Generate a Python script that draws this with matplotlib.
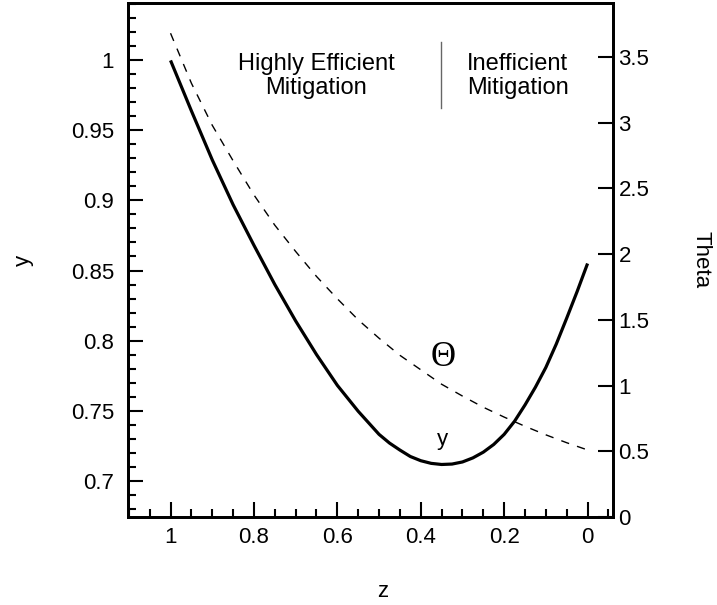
import numpy as np
import matplotlib.pyplot as plt
from matplotlib.ticker import MultipleLocator, FuncFormatter

plt.rcParams['font.family'] = ['Liberation Sans', 'DejaVu Sans']

# values
z = [1.0, 0.95, 0.9, 0.85, 0.8, 0.75, 0.7, 0.65, 0.6, 0.55, 0.5, 0.475, 0.45,
     0.425, 0.4, 0.375, 0.35, 0.325, 0.3, 0.275, 0.25, 0.225, 0.2, 0.175, 0.15,
     0.125, 0.1, 0.075, 0.05, 0.025, 0.0]
y = [1.0, 0.964, 0.929, 0.897, 0.868, 0.840, 0.814, 0.790, 0.768, 0.7495, 0.733,
     0.7268, 0.7218, 0.7172, 0.7142, 0.7123, 0.7115, 0.7118, 0.7133, 0.7162,
     0.7203, 0.7258, 0.7330, 0.7424, 0.7540, 0.7667, 0.7808, 0.7975, 0.8160,
     0.8350, 0.8550]

z_theta = [1.0, 0.95, 0.9, 0.85, 0.8, 0.75, 0.7, 0.65, 0.6, 0.55, 0.5, 0.45, 0.4,
           0.35, 0.3, 0.25, 0.2, 0.15, 0.1, 0.05, 0.0]
theta = [3.68, 3.30, 2.98, 2.71, 2.45, 2.22, 2.02, 1.83, 1.66, 1.50, 1.36,
         1.23, 1.12, 1.01, 0.92, 0.835, 0.76, 0.69, 0.625, 0.565, 0.51]

fig = plt.figure(figsize=(7.17, 6.05), dpi=100)
ax = fig.add_axes([128 / 717, 88 / 605, 485 / 717, 514 / 605])
ax2 = ax.twinx()

ax.plot(z, y, color='black', lw=2.3, solid_joinstyle='round', solid_capstyle='butt')
ax2.plot(z_theta, theta, color='black', lw=1.0, dashes=(6, 6))

ax.set_xlim(1.102, -0.061)
ax.set_ylim(0.674, 1.041)
ax2.set_ylim(0, 3.91)

fmt = FuncFormatter(lambda v, p: f"{v:g}")
ax.xaxis.set_major_locator(MultipleLocator(0.2))
ax.xaxis.set_minor_locator(MultipleLocator(0.05))
ax.yaxis.set_major_locator(MultipleLocator(0.05))
ax.yaxis.set_minor_locator(MultipleLocator(0.01))
ax.xaxis.set_major_formatter(fmt)
ax.yaxis.set_major_formatter(fmt)
ax2.yaxis.set_major_locator(MultipleLocator(0.5))
ax2.yaxis.set_major_formatter(fmt)

ax.tick_params(axis='both', which='major', direction='in', length=11, width=1.5, labelsize=16)
ax.tick_params(axis='both', which='minor', direction='in', length=6, width=1.5)
ax.tick_params(axis='y', which='both', left=True, right=False, pad=10)
ax.tick_params(axis='x', which='both', top=False, pad=7)
ax2.tick_params(axis='y', which='major', direction='in', length=11, width=1.5, labelsize=16, pad=4)

for a in (ax, ax2):
    for s in a.spines.values():
        s.set_linewidth(2)

ax.set_xlabel('z', fontsize=16)
ax.set_ylabel('y', fontsize=16)
ax2.set_ylabel('Theta', fontsize=16, rotation=-90)
ax.xaxis.set_label_coords(0.526, -0.124)
ax.yaxis.set_label_coords(-0.194, 0.5)
ax2.yaxis.set_label_coords(1.204, 0.5)

ax.text(0.651, 0.989, 'Highly Efficient\nMitigation', ha='center', va='center',
        fontsize=17, linespacing=1.1)
ax.text(0.168, 0.989, 'Inefficient\nMitigation', ha='center', va='center',
        fontsize=17, linespacing=1.1)
ax.plot([0.351, 0.351], [0.966, 1.0134], color='#666666', lw=1)

ax.text(0.346, 0.788, '\u0398', ha='center', va='center', fontsize=25,
        family=['Liberation Serif', 'DejaVu Serif'])
ax.text(0.347, 0.729, 'y', ha='center', va='center', fontsize=16)

fig.savefig('out.png', dpi=100)
